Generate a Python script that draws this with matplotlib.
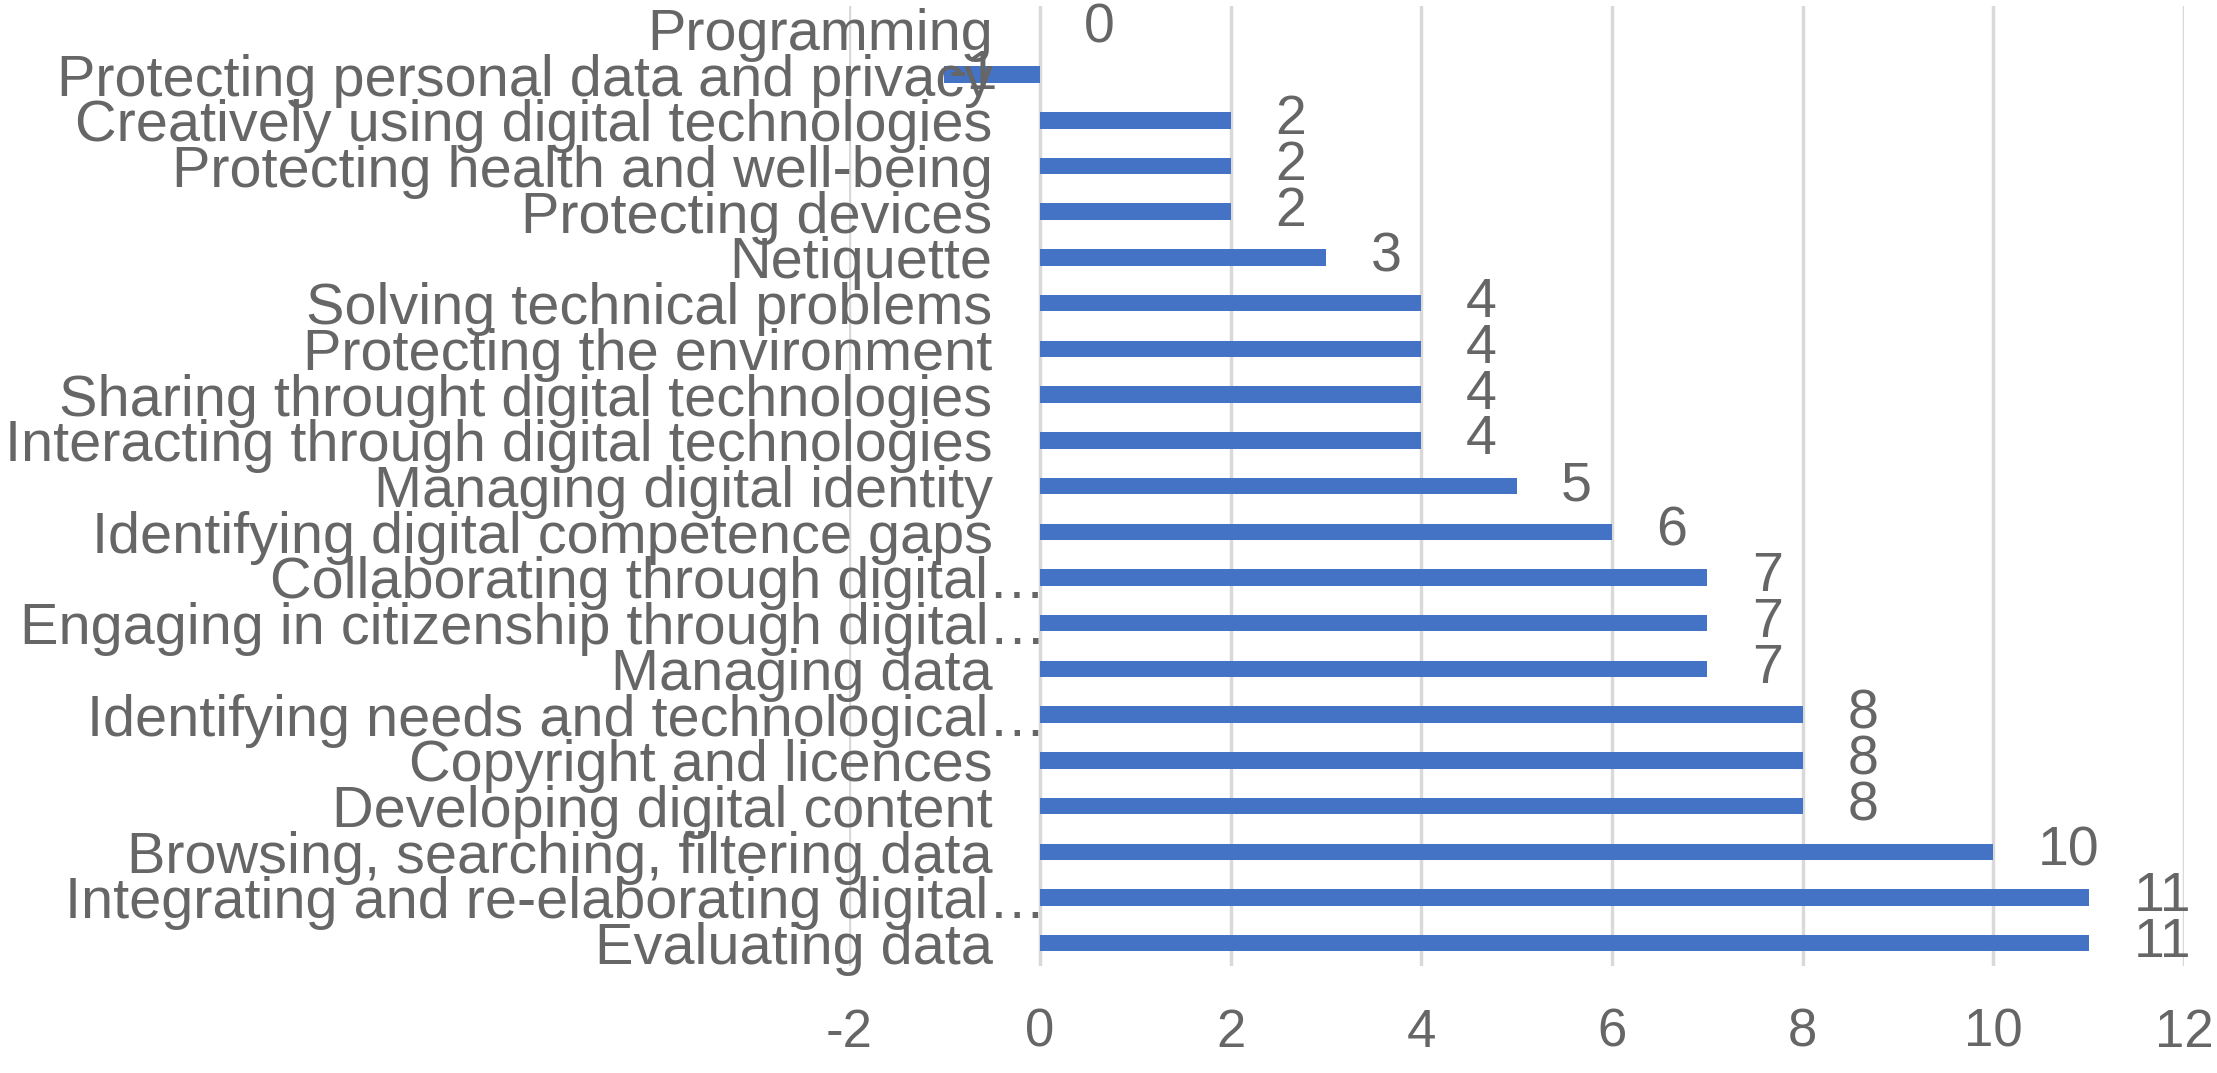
import matplotlib
matplotlib.use("Agg")
import matplotlib.pyplot as plt
import numpy as np

plt.rcParams['font.family'] = ['Liberation Sans', 'DejaVu Sans']

# categories listed top to bottom, as in the chart
skills = [
    "Programming",
    "Protecting personal data and privacy",
    "Creatively using digital technologies",
    "Protecting health and well-being",
    "Protecting devices",
    "Netiquette",
    "Solving technical problems",
    "Protecting the environment",
    "Sharing throught digital technologies",
    "Interacting through digital technologies",
    "Managing digital identity",
    "Identifying digital competence gaps",
    "Collaborating through digital\u2026",
    "Engaging in citizenship through digital\u2026",
    "Managing data",
    "Identifying needs and technological\u2026",
    "Copyright and licences",
    "Developing digital content",
    "Browsing, searching, filtering data",
    "Integrating and re-elaborating digital\u2026",
    "Evaluating data",
]
counts = [0, -1, 2, 2, 2, 3, 4, 4, 4, 4, 5, 6, 7, 7, 7, 8, 8, 8, 10, 11, 11]
x_ticks = [-2, 0, 2, 4, 6, 8, 10, 12]

bar_color = '#4472C4'
text_color = '#666666'
grid_color = '#D9D9D9'
label_size = 41.5

fig = plt.figure(figsize=(22.17, 10.73), dpi=100)
ax = fig.add_axes([0.383, 0.0997, 0.6022, 0.8947])

y = np.arange(len(skills))
ax.barh(y, counts, height=0.36, color=bar_color, zorder=1)

# gridlines behind the bars
for xt in x_ticks:
    ax.axvline(xt, color=grid_color, linewidth=2.5, zorder=0)

ax.set_xlim(-2, 12)
ax.set_ylim(len(skills) - 0.5, -0.5)
ax.set_xticks(x_ticks)
ax.set_xticklabels([str(t) for t in x_ticks])
ax.set_yticks([])

for s in ax.spines.values():
    s.set_visible(False)

ax.tick_params(axis='x', length=0, pad=30, labelsize=38, labelcolor=text_color)

# category labels sit next to the zero line; truncated ones let the
# ellipsis hang out to the right like Excel does
for yi, name in zip(y, skills):
    dx = -34 + (label_size * 0.93 if name.endswith('\u2026') else 0)
    ax.annotate(name, (0, yi), xytext=(dx, 0), textcoords='offset points',
                ha='right', va='center_baseline', fontsize=label_size,
                color=text_color, zorder=3, annotation_clip=False)

# value labels at the bar ends
for yi, v in zip(y, counts):
    off = 32 if v >= 0 else 3
    ax.annotate(str(v), (v, yi), xytext=(off, 0), textcoords='offset points',
                ha='left', va='center', fontsize=40, color=text_color, zorder=3)

fig.savefig('out.png', dpi=100)
